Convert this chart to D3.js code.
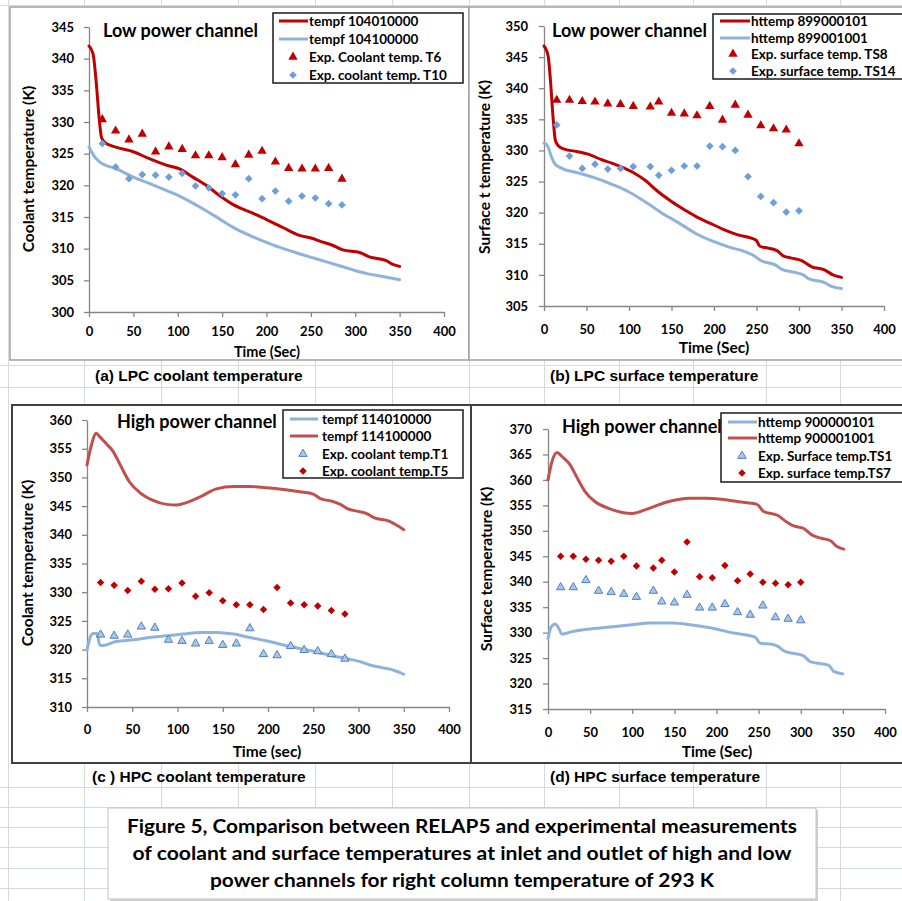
<!DOCTYPE html>
<html>
<head>
<meta charset="utf-8">
<script src="https://cdn.jsdelivr.net/npm/d3@7"></script>
<style>
  body { margin: 0; background: #fff; }
  svg { display: block; font-family: Lato, "Open Sans", sans-serif; }
</style>
</head>
<body>
<div id="fig"></div>
<script>
// ---- data (time in s, temperature in K) ----
var xTicks = [0, 50, 100, 150, 200, 250, 300, 350, 400];

// (a) LPC coolant temperature
var aYTicks = [300, 305, 310, 315, 320, 325, 330, 335, 340, 345];
var aRedTime = [0, 4.5, 8.3, 11, 14, 17.6, 31, 50, 68, 87, 102, 117, 132, 147, 162, 181, 200, 219, 237, 252, 260, 275, 286, 305, 316, 335, 341, 350];
var aRedTemp = [342, 340.8, 336, 331.3, 327.6, 326.8, 326, 325.3, 324.2, 323.2, 322.6, 321.3, 320, 318.4, 317, 315.8, 314.6, 313.3, 312.1, 311.6, 311.2, 310.5, 309.8, 309.4, 308.7, 308.1, 307.6, 307.2];
var aBlueTime = [0, 6.4, 12, 31, 50, 68, 87, 102, 117, 132, 147, 162, 181, 200, 219, 237, 256, 275, 294, 312, 331, 350];
var aBlueTemp = [326.05, 324.5, 323.7, 322.6, 321.3, 320.3, 319.2, 318.3, 317.2, 316, 314.7, 313.4, 312.1, 311, 310, 309.2, 308.4, 307.6, 306.8, 306.1, 305.6, 305.1];
var aExpTime = [15, 30, 45, 60, 75, 90, 105, 120, 135, 150, 165, 180, 195, 210, 225, 240, 255, 270, 285];
var aExpT6 = [330.4, 328.6, 327.2, 328.1, 325.3, 326.1, 325.7, 324.7, 324.7, 324.4, 323.3, 324.8, 325.4, 323.7, 322.7, 322.6, 322.6, 322.7, 321];
var aExpT10 = [326.6, 322.9, 321.05, 321.7, 321.6, 321.3, 321.9, 319.9, 319.6, 318.7, 318.5, 321.05, 317.9, 319.1, 317.5, 318.3, 318, 317.1, 316.9];

// (b) LPC surface temperature
var bYTicks = [305, 310, 315, 320, 325, 330, 335, 340, 345, 350];
var bRedTime = [0, 4.7, 7.9, 10.6, 13.4, 16.5, 24, 40, 52, 68, 79, 95, 107, 119, 134, 150, 166, 181, 197, 213, 229, 244, 250, 254, 260, 274, 282, 291, 303, 315, 330, 340, 350];
var bRedTemp = [346.8, 345.3, 340.7, 335.4, 331.6, 330.8, 330.2, 329.8, 329.4, 328.5, 328, 327.1, 326.3, 325.2, 323.4, 321.8, 320.4, 319.2, 318.2, 317.2, 316.4, 315.9, 315.5, 314.6, 314.4, 313.9, 313, 312.7, 312.3, 311.3, 310.8, 310, 309.6];
var bBlueTime = [0, 4.7, 8.6, 12.6, 20, 40, 60, 79, 99, 119, 138, 158, 178, 197, 217, 237, 248, 254, 272, 280, 295, 305, 311, 330, 339, 350];
var bBlueTemp = [331.2, 330.6, 329, 327.9, 327.2, 326.4, 325.6, 324.6, 323.4, 321.75, 320, 318.4, 316.7, 315.5, 314.5, 313.7, 313, 312.4, 311.6, 310.9, 310.4, 310, 309.4, 308.75, 308.1, 307.8];
var bExpTime = [15, 30, 45, 60, 75, 90, 105, 125, 135, 150, 165, 180, 195, 210, 225, 240, 255, 270, 285, 300];
var bExpTS8 = [338.1, 338.1, 337.9, 337.8, 337.5, 337.4, 337.1, 337, 337.8, 336, 335.9, 335.6, 337.1, 334.9, 337.3, 335.7, 334, 333.5, 333.3, 331.1];
var bExpTS14 = [334.1, 329.1, 327.1, 327.8, 327, 327.1, 327.4, 327.4, 326, 326.8, 327.5, 327.5, 330.7, 330.6, 330, 325.8, 322.6, 321.6, 320.1, 320.3];

// (c) HPC coolant temperature
var cYTicks = [310, 315, 320, 325, 330, 335, 340, 345, 350, 355, 360];
var cBlueTime = [0, 3, 6.6, 11, 14, 17.7, 32, 51, 69, 88, 106, 125, 143, 162, 180, 199, 217, 235, 250, 258, 272, 291, 302, 313, 328, 339, 350];
var cBlueTemp = [319.9, 321.9, 322.8, 322.8, 320.8, 320.7, 321.4, 321.7, 322.1, 322.4, 322.7, 323, 323, 322.7, 322.1, 321.5, 320.8, 320.2, 319.7, 319.4, 318.9, 318.3, 317.9, 317.3, 316.8, 316.4, 315.7];
var cRedTime = [0, 4.8, 10.3, 14, 21, 29, 36, 47, 58, 73, 88, 99, 110, 125, 143, 162, 180, 199, 217, 235, 250, 258, 272, 280, 287, 302, 309, 317, 335, 341, 350];
var cRedTemp = [352.15, 355.6, 357.7, 357.1, 355.9, 354.5, 352.4, 349.2, 347.4, 346, 345.3, 345.2, 345.6, 346.6, 348, 348.4, 348.4, 348.2, 347.9, 347.5, 347.1, 346.3, 345.8, 345.3, 344.6, 344, 343.7, 343, 342.3, 341.8, 340.9];
var cExpTime = [15, 30, 45, 60, 75, 90, 105, 120, 135, 150, 165, 180, 195, 210, 225, 240, 255, 270, 285];
var cExpT1 = [322.6, 322.4, 322.6, 324, 323.8, 321.7, 321.5, 321.05, 321.5, 320.8, 321.05, 323.7, 319.2, 319, 320.6, 319.9, 319.7, 319.2, 318.4];
var cExpT5 = [331.7, 331.2, 330.3, 331.9, 330.5, 330.6, 331.6, 329.3, 329.9, 328.5, 327.8, 327.8, 327, 330.8, 328.1, 327.8, 327.6, 326.8, 326.2];

// (d) HPC surface temperature
var dYTicks = [315, 320, 325, 330, 335, 340, 345, 350, 355, 360, 365, 370];
var dBlueTime = [0, 4, 8.7, 12.6, 16.6, 28.5, 44, 68, 96, 123, 147, 171, 194, 218, 246, 252, 264, 273, 281, 303, 311, 333, 339, 350];
var dBlueTemp = [328.9, 331.2, 331.7, 330.9, 329.7, 330.2, 330.6, 331, 331.5, 331.9, 331.9, 331.5, 330.9, 330, 329.1, 327.9, 327.75, 327.3, 326.3, 325.5, 324.3, 323.6, 322.4, 321.9];
var dRedTime = [0, 4.7, 10.7, 16.6, 26.5, 34, 44, 56, 72, 88, 100, 115, 131, 147, 167, 187, 206, 226, 248, 256, 273, 281, 291, 303, 313, 325, 335, 343, 351];
var dRedTemp = [360, 363.6, 365.4, 364.6, 362.9, 360.6, 357.7, 355.7, 354.4, 353.6, 353.4, 354.1, 355.1, 355.9, 356.4, 356.4, 356.2, 355.7, 355.2, 353.8, 353, 352, 351, 350.5, 349.2, 348.5, 348.1, 346.9, 346.4];
var dExpTime = [15, 30, 45, 60, 75, 90, 105, 125, 135, 150, 165, 180, 195, 210, 225, 240, 255, 270, 285, 300];
var dExpTS1 = [338.9, 338.9, 340.3, 338.2, 337.95, 337.6, 337, 338.2, 336.1, 335.9, 337.4, 334.9, 334.9, 335.6, 334, 333.5, 335.3, 333, 332.7, 332.4];
var dExpTS7 = [345, 345, 344.4, 344.2, 344, 345, 343.1, 342.7, 344.2, 341.9, 347.8, 341, 340.8, 343.2, 340.2, 341.5, 339.9, 339.7, 339.4, 339.9];

var captionLines = [
    "Figure 5, Comparison  between RELAP5 and experimental measurements",
    "of coolant and surface temperatures at inlet and outlet of high and low",
    "power channels for right column temperature of 293 K"
];

// spreadsheet cell grid behind the charts
var gridCols = [8, 84, 161, 238, 315, 392, 469, 544, 619, 693, 766, 840];
var gridRows = [5, 365, 387, 787, 807, 827, 847, 868, 888];

// ---- colours ----
var darkRed = "#c00000", brickRed = "#c0504d", lightBlue = "#8fb2dd",
    diamondBlue = "#6f9fd8", triBlueFill = "#a9c6ea", triBlueStroke = "#4f81bd";

function zip(t, v){ return t.map(function(d, i){ return {t: d, v: v[i]}; }); }

var panels = [
    {
        frame: [10, 7, 469, 360], frameColor: "#a0a0a0", frameWidth: 1.5,
        plot: {x0: 89, x1: 444, y0: 27, y1: 312}, yTicks: aYTicks, xPad: 10, yPad: 10,
        title: "Low power channel", titleX: 103, titleY: 37,
        yTitle: "Coolant temperature (K)", yTitleX: 29, yTitleY: 169,
        xTitle: "Time (Sec)", xTitleX: 267, xTitleY: 357, xTitleSize: "14.5px",
        legend: {x: 273, y: 13, w: 190, h: 70, rows: [21, 39, 57, 75], lx0: 279, lx1: 308, mx: 293, tx: 309},
        caption: "(a) LPC coolant temperature", capX: 95, capY: 381,
        series: [
            {kind: "line", name: "tempf 104010000", data: zip(aRedTime, aRedTemp), color: darkRed},
            {kind: "line", name: "tempf 104100000", data: zip(aBlueTime, aBlueTemp), color: lightBlue},
            {kind: "tri", name: "Exp. Coolant temp. T6", data: zip(aExpTime, aExpT6), fill: darkRed, stroke: "none", size: 38},
            {kind: "dia", name: "Exp. coolant temp. T10", data: zip(aExpTime, aExpT10), fill: diamondBlue, stroke: "none", size: 30}
        ]
    },
    {
        frame: [469, 7, 910, 360], frameColor: "#a0a0a0", frameWidth: 1.5,
        plot: {x0: 544, x1: 884, y0: 26, y1: 306}, yTicks: bYTicks, xPad: 14, yPad: 11,
        title: "Low power channel", titleX: 552, titleY: 37,
        yTitle: "Surface t temperature (K)", yTitleX: 485, yTitleY: 167,
        xTitle: "Time (Sec)", xTitleX: 714, xTitleY: 353, xTitleSize: "15.5px",
        legend: {x: 713, y: 14, w: 200, h: 65, rows: [21, 38, 54, 71], lx0: 720, lx1: 750, mx: 733, tx: 751},
        caption: "(b) LPC surface temperature", capX: 550, capY: 381,
        series: [
            {kind: "line", name: "httemp 899000101", data: zip(bRedTime, bRedTemp), color: darkRed},
            {kind: "line", name: "httemp 899001001", data: zip(bBlueTime, bBlueTemp), color: lightBlue},
            {kind: "tri", name: "Exp. surface temp. TS8", data: zip(bExpTime, bExpTS8), fill: darkRed, stroke: "none", size: 38},
            {kind: "dia", name: "Exp. surface temp. TS14", data: zip(bExpTime, bExpTS14), fill: diamondBlue, stroke: "none", size: 30}
        ]
    },
    {
        frame: [12, 405, 471, 763], frameColor: "#404040", frameWidth: 2,
        plot: {x0: 87, x1: 449, y0: 420, y1: 707}, yTicks: cYTicks, xPad: 13, yPad: 10,
        title: "High power channel", titleX: 117, titleY: 428,
        yTitle: "Coolant temperature (K)", yTitleX: 28, yTitleY: 563,
        xTitle: "Time (sec)", xTitleX: 267, xTitleY: 757, xTitleSize: "15.5px",
        legend: {x: 283, y: 410, w: 180, h: 68, rows: [419, 436, 454, 471], lx0: 290, lx1: 318, mx: 303, tx: 322},
        caption: "(c ) HPC coolant temperature", capX: 92, capY: 782,
        series: [
            {kind: "line", name: "tempf 114010000", data: zip(cBlueTime, cBlueTemp), color: lightBlue},
            {kind: "line", name: "tempf 114100000", data: zip(cRedTime, cRedTemp), color: brickRed},
            {kind: "tri", name: "Exp. coolant temp.T1", data: zip(cExpTime, cExpT1), fill: triBlueFill, stroke: triBlueStroke, size: 30},
            {kind: "dia", name: "Exp. coolant temp.T5", data: zip(cExpTime, cExpT5), fill: darkRed, stroke: "none", size: 28}
        ]
    },
    {
        frame: [471, 405, 910, 763], frameColor: "#404040", frameWidth: 2,
        plot: {x0: 548, x1: 885, y0: 429, y1: 709}, yTicks: dYTicks, xPad: 14, yPad: 11,
        title: "High power channel", titleX: 562, titleY: 433,
        yTitle: "Surface temperature (K)", yTitleX: 487, yTitleY: 569,
        xTitle: "Time (Sec)", xTitleX: 717, xTitleY: 757, xTitleSize: "15.5px",
        legend: {x: 721, y: 413, w: 200, h: 69, rows: [422, 438, 456, 473], lx0: 728, lx1: 757, mx: 742, tx: 758},
        caption: "(d) HPC surface temperature", capX: 550, capY: 782,
        series: [
            {kind: "line", name: "httemp 900000101", data: zip(dBlueTime, dBlueTemp), color: lightBlue},
            {kind: "line", name: "httemp 900001001", data: zip(dRedTime, dRedTemp), color: brickRed},
            {kind: "tri", name: "Exp. Surface temp.TS1", data: zip(dExpTime, dExpTS1), fill: triBlueFill, stroke: triBlueStroke, size: 30},
            {kind: "dia", name: "Exp. surface temp.TS7", data: zip(dExpTime, dExpTS7), fill: darkRed, stroke: "none", size: 28}
        ]
    }
];

var W = 902, H = 901;
var svg = d3.select("#fig").append("svg")
    .attr("width", W)
    .attr("height", H);

// grid
var grid = svg.append("g").attr("stroke", "#d4d9e2").attr("stroke-width", 1);
grid.selectAll("line.col").data(gridCols).enter().append("line")
    .attr("class", "col")
    .attr("x1", function(d){ return d + 0.5; }).attr("x2", function(d){ return d + 0.5; })
    .attr("y1", 0).attr("y2", H);
grid.selectAll("line.row").data(gridRows).enter().append("line")
    .attr("class", "row")
    .attr("y1", function(d){ return d + 0.5; }).attr("y2", function(d){ return d + 0.5; })
    .attr("x1", 0).attr("x2", W);

function markerPath(kind, size){
    if (kind == "tri") return d3.symbol().type(d3.symbolTriangle).size(size)();
    return d3.symbol().type(d3.symbolSquare).size(size)();
}

function drawPanel(p){
    var g = svg.append("g");
    var f = p.frame;

    g.append("rect")
        .attr("x", f[0]).attr("y", f[1])
        .attr("width", f[2] - f[0]).attr("height", f[3] - f[1])
        .attr("fill", "#fff")
        .attr("stroke", p.frameColor)
        .attr("stroke-width", p.frameWidth);

    var x = d3.scaleLinear().domain([0, 400]).range([p.plot.x0, p.plot.x1]);
    var y = d3.scaleLinear()
        .domain([p.yTicks[0], p.yTicks[p.yTicks.length - 1]])
        .range([p.plot.y1, p.plot.y0]);

    var yAxis = g.append("g")
        .attr("transform", "translate(" + p.plot.x0 + ",0)")
        .call(d3.axisLeft(y).tickValues(p.yTicks).tickSize(5).tickSizeOuter(0).tickPadding(p.yPad));
    var xAxis = g.append("g")
        .attr("transform", "translate(0," + p.plot.y1 + ")")
        .call(d3.axisBottom(x).tickValues(xTicks).tickSize(5).tickSizeOuter(0).tickPadding(p.xPad));

    [yAxis, xAxis].forEach(function(a){
        a.select(".domain").attr("stroke", "#868686").attr("stroke-width", 1.3);
        a.selectAll(".tick line").attr("stroke", "#868686").attr("stroke-width", 1.3);
        a.selectAll(".tick text")
            .attr("fill", "#000")
            .style("font-family", "Lato, sans-serif")
            .style("font-weight", "bold")
            .style("font-size", "13px");
    });

    var line = d3.line()
        .x(function(d){ return x(d.t); })
        .y(function(d){ return y(d.v); })
        .curve(d3.curveMonotoneX);

    p.series.forEach(function(s){
        if (s.kind == "line") {
            g.append("path")
                .datum(s.data)
                .attr("d", line)
                .attr("fill", "none")
                .attr("stroke", s.color)
                .attr("stroke-width", 3)
                .attr("stroke-linejoin", "round")
                .attr("stroke-linecap", "round");
        }
    });
    p.series.forEach(function(s){
        if (s.kind != "line") {
            g.append("g").selectAll("path")
                .data(s.data)
                .enter().append("path")
                .attr("d", markerPath(s.kind, s.size))
                .attr("transform", function(d){
                    return "translate(" + x(d.t) + "," + y(d.v) + ")" + (s.kind == "dia" ? " rotate(45)" : "");
                })
                .attr("fill", s.fill)
                .attr("stroke", s.stroke)
                .attr("stroke-width", 1);
        }
    });

    // titles
    g.append("text")
        .attr("x", p.titleX).attr("y", p.titleY)
        .style("font-size", "18px").style("font-weight", "bold")
        .text(p.title);

    g.append("text")
        .attr("x", p.xTitleX).attr("y", p.xTitleY)
        .attr("text-anchor", "middle")
        .style("font-size", p.xTitleSize).style("font-weight", "bold")
        .text(p.xTitle);

    g.append("text")
        .attr("transform", "translate(" + p.yTitleX + "," + p.yTitleY + ") rotate(-90)")
        .attr("text-anchor", "middle")
        .attr("dy", "0.35em")
        .style("font-size", "15.5px").style("font-weight", "bold")
        .text(p.yTitle);

    // legend
    var L = p.legend;
    var lg = g.append("g");
    lg.append("rect")
        .attr("x", L.x).attr("y", L.y)
        .attr("width", L.w).attr("height", L.h)
        .attr("fill", "#fff")
        .attr("stroke", "#1a1a1a")
        .attr("stroke-width", 1.5);

    p.series.forEach(function(s, i){
        var ry = L.rows[i];
        if (s.kind == "line") {
            lg.append("line")
                .attr("x1", L.lx0).attr("x2", L.lx1)
                .attr("y1", ry).attr("y2", ry)
                .attr("stroke", s.color).attr("stroke-width", 3);
        } else {
            lg.append("path")
                .attr("d", markerPath(s.kind, s.size))
                .attr("transform", "translate(" + L.mx + "," + ry + ")" + (s.kind == "dia" ? " rotate(45)" : ""))
                .attr("fill", s.fill)
                .attr("stroke", s.stroke);
        }
        lg.append("text")
            .attr("x", L.tx).attr("y", ry)
            .attr("dy", "0.35em")
            .style("font-size", "13.5px").style("font-weight", "bold")
            .text(s.name);
    });

    // caption under the chart
    svg.append("text")
        .attr("x", p.capX).attr("y", p.capY)
        .style("font-family", "'Liberation Sans', Arial, sans-serif")
        .style("font-size", "15.5px").style("font-weight", "bold")
        .text(p.caption);
}

panels.forEach(drawPanel);

// figure caption box
var box = svg.append("g");
box.append("rect")
    .attr("x", 110).attr("y", 810)
    .attr("width", 708).attr("height", 91)
    .attr("fill", "#d0d0d0");
box.append("rect")
    .attr("x", 108).attr("y", 808)
    .attr("width", 708).attr("height", 91)
    .attr("fill", "#fff")
    .attr("stroke", "#c4c4c4");

var capWidths = [670, 659, 504];
box.selectAll("text")
    .data(captionLines)
    .enter().append("text")
    .attr("x", 462)
    .attr("y", function(d, i){ return 833 + i * 27; })
    .attr("text-anchor", "middle")
    .attr("textLength", function(d, i){ return capWidths[i]; })
    .attr("lengthAdjust", "spacingAndGlyphs")
    .style("font-size", "18px").style("font-weight", "bold")
    .text(function(d){ return d; });
</script>
</body>
</html>
